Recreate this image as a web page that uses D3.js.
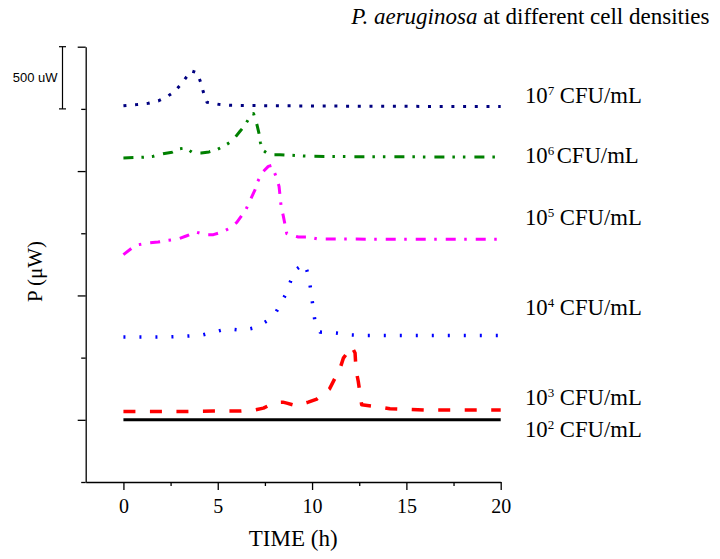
<!DOCTYPE html>
<html>
<head>
<meta charset="utf-8">
<script src="https://cdn.jsdelivr.net/npm/d3@7"></script>
<style>
  body { margin: 0; background: #fff; }
  svg { display: block; }
</style>
</head>
<body>
<svg id="chart"></svg>
<script>
// données (temps en h, puissance en µW, décalées comme sur la figure)
const labels = ["7", "6", "5", "4", "3", "2"];

const t7 = [0, 0.71, 1.32, 1.85, 2.30, 2.72, 3.07, 3.32, 3.59, 3.91, 4.10, 4.24, 4.43, 5.03, 5.65, 8, 12, 16, 20];
const p7 = [2526, 2535, 2545, 2564, 2597, 2641, 2701, 2752, 2806, 2790, 2711, 2633, 2553, 2537, 2529, 2525, 2522, 2520, 2520];

const t6 = [0, 1.06, 1.59, 2.10, 2.58, 2.91, 3.31, 3.68, 4.12, 4.54, 4.95, 5.28, 5.65, 5.92, 6.18, 6.40, 6.62, 6.90, 7.09, 7.19, 7.26, 7.39, 7.74, 8.30, 8.92, 9.89, 12, 16, 20];
const p6 = [2106, 2111, 2119, 2140, 2151, 2178, 2186, 2146, 2146, 2154, 2172, 2197, 2231, 2271, 2320, 2360, 2414, 2462, 2366, 2301, 2231, 2167, 2132, 2132, 2127, 2119, 2116, 2114, 2114];

const t5 = [0, 0.45, 0.79, 1.31, 1.84, 2.38, 2.90, 3.36, 3.84, 4.33, 4.77, 5.23, 5.65, 6.01, 6.22, 6.49, 6.98, 7.12, 7.37, 7.68, 7.85, 8.09, 8.25, 8.36, 8.48, 8.66, 9.27, 9.80, 10.33, 14, 20];
const p5 = [1328, 1381, 1408, 1422, 1430, 1443, 1454, 1480, 1510, 1489, 1489, 1510, 1542, 1587, 1631, 1690, 1851, 1917, 1990, 2038, 2045, 1958, 1877, 1716, 1636, 1497, 1470, 1470, 1454, 1452, 1452];

const t4 = [0, 0.85, 1.73, 2.56, 3.44, 4.17, 4.81, 5.51, 6.33, 7.03, 7.60, 8.08, 8.39, 8.66, 8.87, 9.11, 9.61, 9.80, 9.93, 10.04, 10.16, 10.42, 11.27, 11.87, 12.81, 14.66, 20];
const p4 = [665, 665, 665, 668, 674, 682, 706, 732, 719, 743, 794, 863, 947, 1027, 1118, 1205, 1258, 1164, 1048, 917, 786, 706, 698, 684, 678, 678, 678];

const t3 = [0, 2.03, 3.36, 4.77, 6.15, 6.98, 7.42, 8.04, 8.45, 8.66, 9.15, 9.80, 10.25, 10.60, 10.92, 11.22, 11.45, 11.66, 11.92, 12.10, 12.28, 12.33, 12.45, 12.63, 13.39, 14.13, 16, 20];
const p3 = [67, 67, 67, 70, 70, 80, 94, 140, 142, 134, 113, 142, 167, 209, 247, 336, 397, 496, 550, 590, 537, 402, 308, 121, 107, 89, 78, 78];

const t2 = [0, 5, 10, 15, 20];
const p2 = [0, 0, 0, 0, 0];

const xTicks = [0, 5, 10, 15, 20];

// styles des courbes
const couleurs = ["#000080", "#008000", "#ff00ff", "#0000ff", "#ff0000", "#000000"];
const tirets = ["3,8.7", "10,8,2.5,8,2.5,9", "10,8.5,2.5,9", "2,14", "12,14.5", null];
const epaisseurs = [3, 3, 3, 3.5, 3.5, 3];
// position verticale (en pixels) de chaque étiquette
const etiquetteY = [103.3, 163.3, 225, 315, 405, 436.7];

const width = 720, height = 559;
const svg = d3.select("#chart").attr("width", width).attr("height", height);

const x = d3.scaleLinear().domain([-2, 20]).range([85.7, 500.7]);
const y = d3.scaleLinear().domain([-500, 3000]).range([482, 46.7]);

const series = [[t7, p7], [t6, p6], [t5, p5], [t4, p4], [t3, p3], [t2, p2]];

const line = d3.line()
    .x(d => x(d[0]))
    .y(d => y(d[1]));

// dessiner du bas vers le haut pour garder la courbe noire dessous
series.map((s, i) => ({ i, pts: s[0].map((t, k) => [t, s[1][k]]) }))
    .reverse()
    .forEach(s => {
        svg.append("path")
            .attr("d", line(s.pts))
            .attr("fill", "none")
            .attr("stroke", couleurs[s.i])
            .attr("stroke-width", epaisseurs[s.i])
            .attr("stroke-dasharray", tirets[s.i])
            .attr("stroke-linejoin", "round");
    });

// axes
const axisStyle = g => {
    g.select(".domain").attr("stroke-width", 1.3);
    g.selectAll(".tick line").attr("stroke-width", 1.3);
};

svg.append("g")
    .attr("transform", `translate(${x.range()[0]},0)`)
    .call(d3.axisLeft(y).tickValues([0, 1000, 2000, 3000]).tickSize(8).tickSizeOuter(0).tickFormat(""))
    .call(axisStyle);
svg.append("g")
    .attr("transform", `translate(${x.range()[0]},0)`)
    .call(d3.axisLeft(y).tickValues([-500, 500, 1500, 2500]).tickSize(4.5).tickSizeOuter(0).tickFormat(""))
    .call(g => g.select(".domain").remove())
    .call(axisStyle);

const xAxis = svg.append("g")
    .attr("transform", `translate(0,${y.range()[0]})`)
    .call(d3.axisBottom(x).tickValues(xTicks).tickSize(8).tickSizeOuter(0))
    .call(axisStyle);
xAxis.selectAll("text")
    .attr("y", 30.5)
    .attr("dy", 0)
    .attr("fill", "#000")
    .style("font-family", "'Liberation Serif', 'Times New Roman', serif")
    .style("font-size", "20px");
svg.append("g")
    .attr("transform", `translate(0,${y.range()[0]})`)
    .call(d3.axisBottom(x).tickValues([2.5, 7.5, 12.5, 17.5]).tickSize(4).tickSizeOuter(0).tickFormat(""))
    .call(g => g.select(".domain").remove())
    .call(axisStyle);

// barre d'échelle 500 uW
const barX = 62.5;
svg.append("line")
    .attr("x1", barX).attr("x2", barX)
    .attr("y1", y(3000)).attr("y2", y(2500))
    .attr("stroke", "#000").attr("stroke-width", 1.2);
[3000, 2500].forEach(v => {
    svg.append("line")
        .attr("x1", barX - 3.5).attr("x2", barX + 3.5)
        .attr("y1", y(v)).attr("y2", y(v))
        .attr("stroke", "#000").attr("stroke-width", 1.2);
});
svg.append("text")
    .attr("x", 57.5)
    .attr("y", y(2750))
    .attr("dy", "0.35em")
    .attr("text-anchor", "end")
    .style("font-family", "'Liberation Sans', Arial, sans-serif")
    .style("font-size", "13px")
    .text("500 uW");

const serif = "'Liberation Serif', 'Times New Roman', serif";

// titre
const titre = svg.append("text")
    .attr("x", 709.5)
    .attr("y", 24)
    .attr("text-anchor", "end")
    .style("font-family", serif)
    .style("font-size", "23px");
titre.append("tspan").style("font-style", "italic").text("P. aeruginosa");
titre.append("tspan").text(" at different cell densities");

// titres des axes
svg.append("text")
    .attr("x", (x.range()[0] + x.range()[1]) / 2)
    .attr("y", 546)
    .attr("text-anchor", "middle")
    .style("font-family", serif)
    .style("font-size", "23px")
    .text("TIME (h)");

svg.append("text")
    .attr("transform", "translate(42,271.5) rotate(-90)")
    .attr("text-anchor", "middle")
    .style("font-family", serif)
    .style("font-size", "21px")
    .text("P (μW)");

// étiquettes des courbes
labels.forEach((e, i) => {
    const t = svg.append("text")
        .attr("x", 525)
        .attr("y", etiquetteY[i])
        .style("font-family", serif)
        .style("font-size", "22.7px");
    t.append("tspan").text("10");
    t.append("tspan").attr("dy", -8).style("font-size", "13px").text(e);
    t.append("tspan").attr("dy", 8).attr("dx", e === "6" ? 2.5 : 0).text((e === "6" ? "" : " ") + "CFU/mL");
});
</script>
</body>
</html>
